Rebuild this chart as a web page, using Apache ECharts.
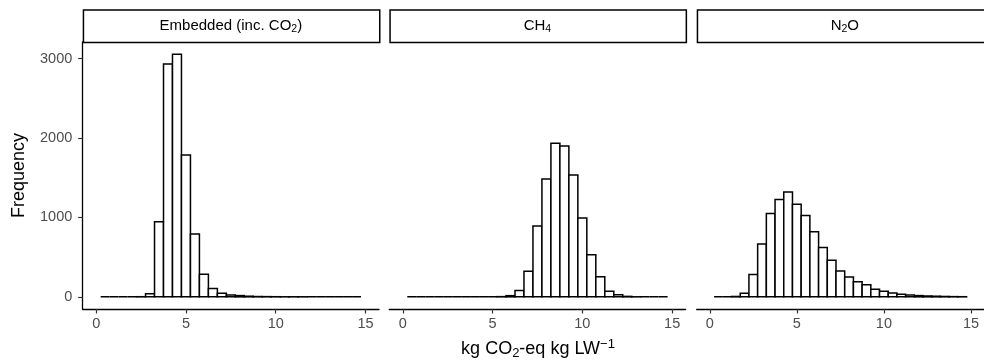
<!DOCTYPE html>
<html>
<head>
<meta charset="utf-8">
<script src="https://cdn.jsdelivr.net/npm/echarts@6/dist/echarts.min.js"></script>
<style>
  html, body { margin: 0; padding: 0; background: #fff; }
  #main { width: 984px; height: 363px; }
</style>
</head>
<body>
<div id="main"></div>
<script>
// bin centres (width 0.5), shared by all facets
const binCenters = [0.5, 1, 1.5, 2, 2.5, 3, 3.5, 4, 4.5, 5, 5.5, 6, 6.5, 7, 7.5,
  8, 8.5, 9, 9.5, 10, 10.5, 11, 11.5, 12, 12.5, 13, 13.5, 14, 14.5];
const binWidth = 0.5;

const embeddedCounts = [0, 0, 0, 0, 2, 38, 945, 2930, 3055, 1785, 790, 286, 106, 47, 25,
  16, 8, 4, 3, 2, 1, 1, 1, 0, 0, 0, 0, 0, 0];
const ch4Counts = [0, 0, 0, 0, 0, 0, 0, 0, 0, 0, 3, 15, 80, 322, 892,
  1482, 1932, 1900, 1535, 993, 531, 252, 72, 28, 6, 1, 0, 0, 0];
const n2oCounts = [0, 0, 5, 45, 282, 664, 1050, 1227, 1319, 1167, 1025, 821, 622, 460, 327,
  250, 191, 151, 97, 72, 50, 34, 24, 16, 11, 8, 5, 3, 2];

const facetNames = ["Embedded", "CH4", "N2O"];
const xTicks = [0, 5, 10, 15];
const yTicks = [0, 1000, 2000, 3000];

const allCounts = [embeddedCounts, ch4Counts, n2oCounts];
const yMaxData = Math.max(...allCounts.flat());
const yMin = -0.05 * yMaxData;
const yMax = 1.05 * yMaxData;

const FONT = "Liberation Sans";
const panelLeft = [82.7, 389.3, 696.7];
const panelTop = 42;
const panelW = 296.3;
const panelH = 267;

const chart = echarts.init(document.getElementById("main"));

const grids = [], xAxes = [], yAxes = [], series = [];
for (let i = 0; i < 3; i++) {
  grids.push({ left: panelLeft[i], top: panelTop, width: panelW, height: panelH });
  xAxes.push({
    type: "value", gridIndex: i, min: -0.75, max: 15.75,
    splitLine: { show: false },
    axisLine: { onZero: false, lineStyle: { color: "#000", width: 1.3 } },
    axisTick: { customValues: xTicks, length: 4.5, lineStyle: { color: "#333", width: 1.2 } },
    axisLabel: { customValues: xTicks, margin: 7, color: "#4d4d4d", fontSize: 14.5, fontFamily: FONT,
      formatter: v => String(v) }
  });
  yAxes.push({
    type: "value", gridIndex: i, min: yMin, max: yMax, show: i === 0,
    splitLine: { show: false },
    axisLine: { show: true, onZero: false, lineStyle: { color: "#000", width: 1.3 } },
    axisTick: { customValues: yTicks, length: 4.5, lineStyle: { color: "#333", width: 1.2 } },
    axisLabel: { customValues: yTicks, margin: 10.4, color: "#4d4d4d", fontSize: 14.5, fontFamily: FONT,
      formatter: v => String(v) }
  });
  series.push({
    type: "custom",
    name: facetNames[i],
    xAxisIndex: i, yAxisIndex: i,
    data: binCenters.map((c, k) => [c, allCounts[i][k]]),
    renderItem: function (params, api) {
      const x = api.value(0), y = api.value(1);
      const p0 = api.coord([x - binWidth / 2, 0]);
      const p1 = api.coord([x + binWidth / 2, y]);
      return {
        type: "rect",
        shape: { x: p0[0], y: p1[1], width: p1[0] - p0[0], height: p0[1] - p1[1] },
        style: { fill: "#fff", stroke: "#000", lineWidth: 1.5 }
      };
    }
  });
}

// strip labels with sub/superscripts
const rich = {
  n: { fontSize: 15, fontFamily: FONT, color: "#1a1a1a", lineHeight: 18 },
  sub: { fontSize: 10.5, fontFamily: FONT, color: "#1a1a1a", verticalAlign: "bottom", lineHeight: 12 }
};
const stripTexts = [
  "{n|Embedded (inc. CO}{sub|2}{n|)}",
  "{n|CH}{sub|4}",
  "{n|N}{sub|2}{n|O}"
];
const graphics = [];
for (let i = 0; i < 3; i++) {
  graphics.push({
    type: "rect", left: panelLeft[i], top: 9.3,
    shape: { width: panelW, height: 32.4 },
    style: { fill: "#fff", stroke: "#000", lineWidth: 1.5 }
  });
  graphics.push({
    type: "text", x: panelLeft[i] + panelW / 2, y: 25.5,
    style: { text: stripTexts[i], rich: rich, align: "center", verticalAlign: "middle" }
  });
}
graphics.push({
  type: "text", x: 18.7, y: 175.5, rotation: Math.PI / 2,
  style: { text: "Frequency", fontSize: 18, fontFamily: FONT, fill: "#000", align: "center", verticalAlign: "middle" }
});
graphics.push({
  type: "text", x: 538, y: 349,
  style: {
    text: "{t|kg CO}{s|2}{t|-eq kg LW}{p|\u22121}",
    align: "center", verticalAlign: "middle",
    rich: {
      t: { fontSize: 18, fontFamily: FONT, color: "#000", lineHeight: 22 },
      s: { fontSize: 13, fontFamily: FONT, color: "#000", verticalAlign: "bottom", lineHeight: 14 },
      p: { fontSize: 13, fontFamily: FONT, color: "#000", verticalAlign: "top", lineHeight: 14 }
    }
  }
});

chart.setOption({
  animation: false,
  backgroundColor: "#fff",
  grid: grids,
  xAxis: xAxes,
  yAxis: yAxes,
  series: series,
  graphic: graphics
});
</script>
</body>
</html>
